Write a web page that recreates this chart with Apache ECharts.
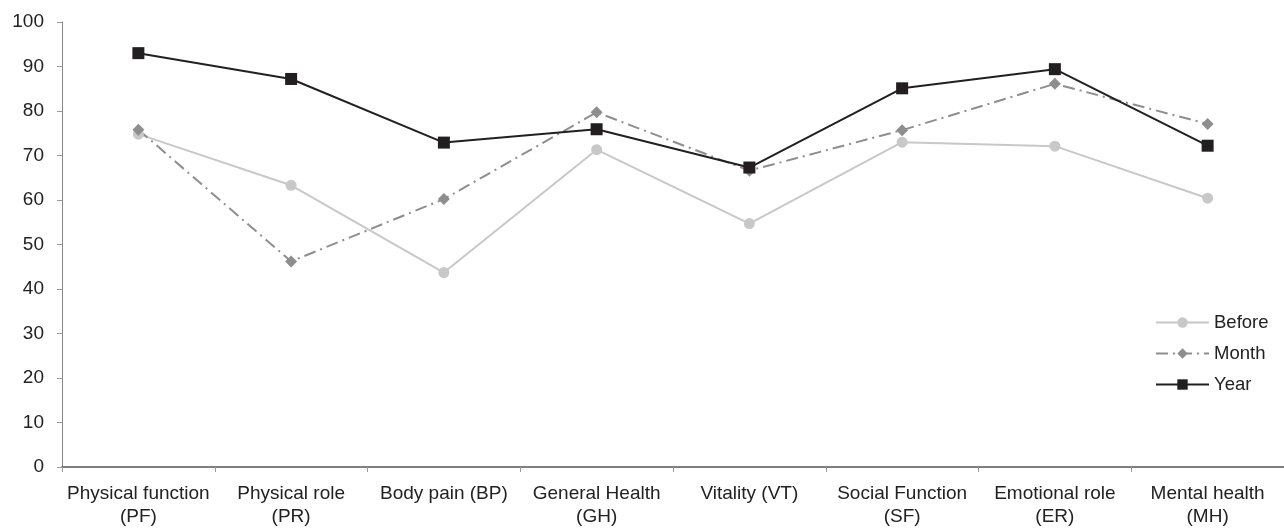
<!DOCTYPE html>
<html>
<head>
<meta charset="utf-8">
<script src="https://cdn.jsdelivr.net/npm/echarts@6/dist/echarts.min.js"></script>
<style>html,body{margin:0;padding:0;background:#fff;}#c{width:1284px;height:528px;}</style>
</head>
<body>
<div id="c"></div>
<script>
const categories = ["Physical function\n(PF)","Physical role\n(PR)","Body pain (BP)","General Health\n(GH)","Vitality (VT)","Social Function\n(SF)","Emotional role\n(ER)","Mental health\n(MH)"];
const before = [74.8, 63.3, 43.7, 71.3, 54.7, 73.0, 72.1, 60.4];
const month = [75.8, 46.2, 60.2, 79.7, 66.6, 75.7, 86.1, 77.1];
const year = [93.0, 87.2, 72.9, 75.9, 67.3, 85.1, 89.4, 72.2];
const yTicks = {min: 0, max: 100, interval: 10};

const chart = echarts.init(document.getElementById('c'), null, {renderer: 'canvas'});
const font = 'Liberation Sans, Arial, sans-serif';
chart.setOption({
  animation: false,
  backgroundColor: '#fff',
  grid: {left: 62, top: 22, bottom: 59, width: 1228, containLabel: false},
  legend: {
    orient: 'vertical', left: 1150, top: 308,
    itemWidth: 53, itemHeight: 13, itemGap: 12,
    textStyle: {fontFamily: font, fontSize: 18.5, color: '#222'},
    data: ['Before', 'Month', 'Year']
  },
  xAxis: {
    type: 'category', data: categories, boundaryGap: true,
    axisLine: {lineStyle: {color: '#555', width: 1.5}},
    axisTick: {show: true, length: 5, alignWithLabel: false, lineStyle: {color: '#999'}},
    axisLabel: {fontFamily: font, fontSize: 19, color: '#222', interval: 0, margin: 15, lineHeight: 23}
  },
  yAxis: {
    type: 'value', min: yTicks.min, max: yTicks.max, interval: yTicks.interval,
    axisLine: {show: true, lineStyle: {color: '#888', width: 1}},
    axisTick: {show: true, length: 5, lineStyle: {color: '#999'}},
    splitLine: {show: false},
    axisLabel: {fontFamily: font, fontSize: 19, color: '#222', margin: 18}
  },
  series: [
    {name: 'Before', type: 'line', data: before, symbol: 'circle', symbolSize: 11,
      itemStyle: {color: '#c8c8c8'}, lineStyle: {color: '#c8c8c8', width: 2}},
    {name: 'Month', type: 'line', data: month, symbol: 'diamond', symbolSize: 12,
      itemStyle: {color: '#8e8e8e'}, lineStyle: {color: '#8e8e8e', width: 2, type: [12, 5, 2, 5]}},
    {name: 'Year', type: 'line', data: year, symbol: 'rect', symbolSize: 12,
      itemStyle: {color: '#231f20'}, lineStyle: {color: '#231f20', width: 2}}
  ]
});
</script>
</body>
</html>
